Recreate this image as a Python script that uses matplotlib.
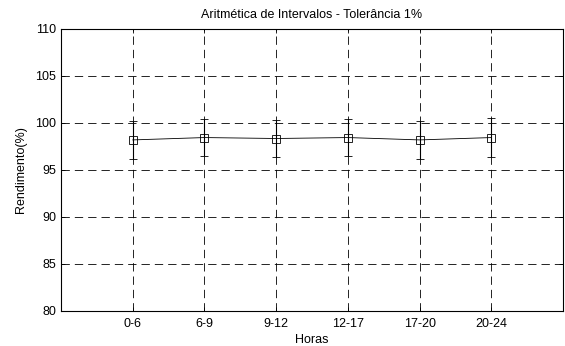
"""Rendimento por faixa horaria - aritmetica de intervalos
"""
import matplotlib.pyplot as plt
import numpy as np

plt.rcParams["font.family"] = ["Liberation Sans", "DejaVu Sans"]
plt.rcParams["font.size"] = 9
plt.rcParams["lines.scale_dashes"] = False

horas = ["0-6", "6-9", "9-12", "12-17", "17-20", "20-24"]
rendimento = [98.2, 98.45, 98.35, 98.45, 98.2, 98.45]
erro = [2.05, 2.0, 2.0, 2.0, 2.05, 2.05]
y_ticks = [80, 85, 90, 95, 100, 105, 110]

xs = np.arange(1, len(horas) + 1)

fig = plt.figure(figsize=(5.65, 3.46), dpi=100)
ax = fig.add_axes([0.108, 0.1012, 0.8885, 0.815])

ax.errorbar(xs, rendimento, yerr=erro, color="black", lw=0.6,
            elinewidth=0.8, capsize=3, capthick=0.8,
            marker="s", markersize=6, markerfacecolor="none",
            markeredgecolor="black", markeredgewidth=0.6)

ax.set_xlim(0, 7)
ax.set_ylim(80, 110)
ax.set_xticks(xs)
ax.set_xticklabels(horas)
ax.set_yticks(y_ticks)
ax.grid(True, color="black", lw=0.6, ls=(0, (6, 3.6)))
ax.tick_params(axis="x", pad=5)
ax.tick_params(direction="in", top=True, right=True, length=3, width=0.6,
               labelsize=9)
for spine in ax.spines.values():
    spine.set_linewidth(0.8)

ax.set_xlabel("Horas", labelpad=3)
ax.set_ylabel("Rendimento(%)", labelpad=6)
ax.set_title("Aritmética de Intervalos - Tolerância 1%", fontsize=9, pad=8)

plt.savefig("out.png", dpi=100)
